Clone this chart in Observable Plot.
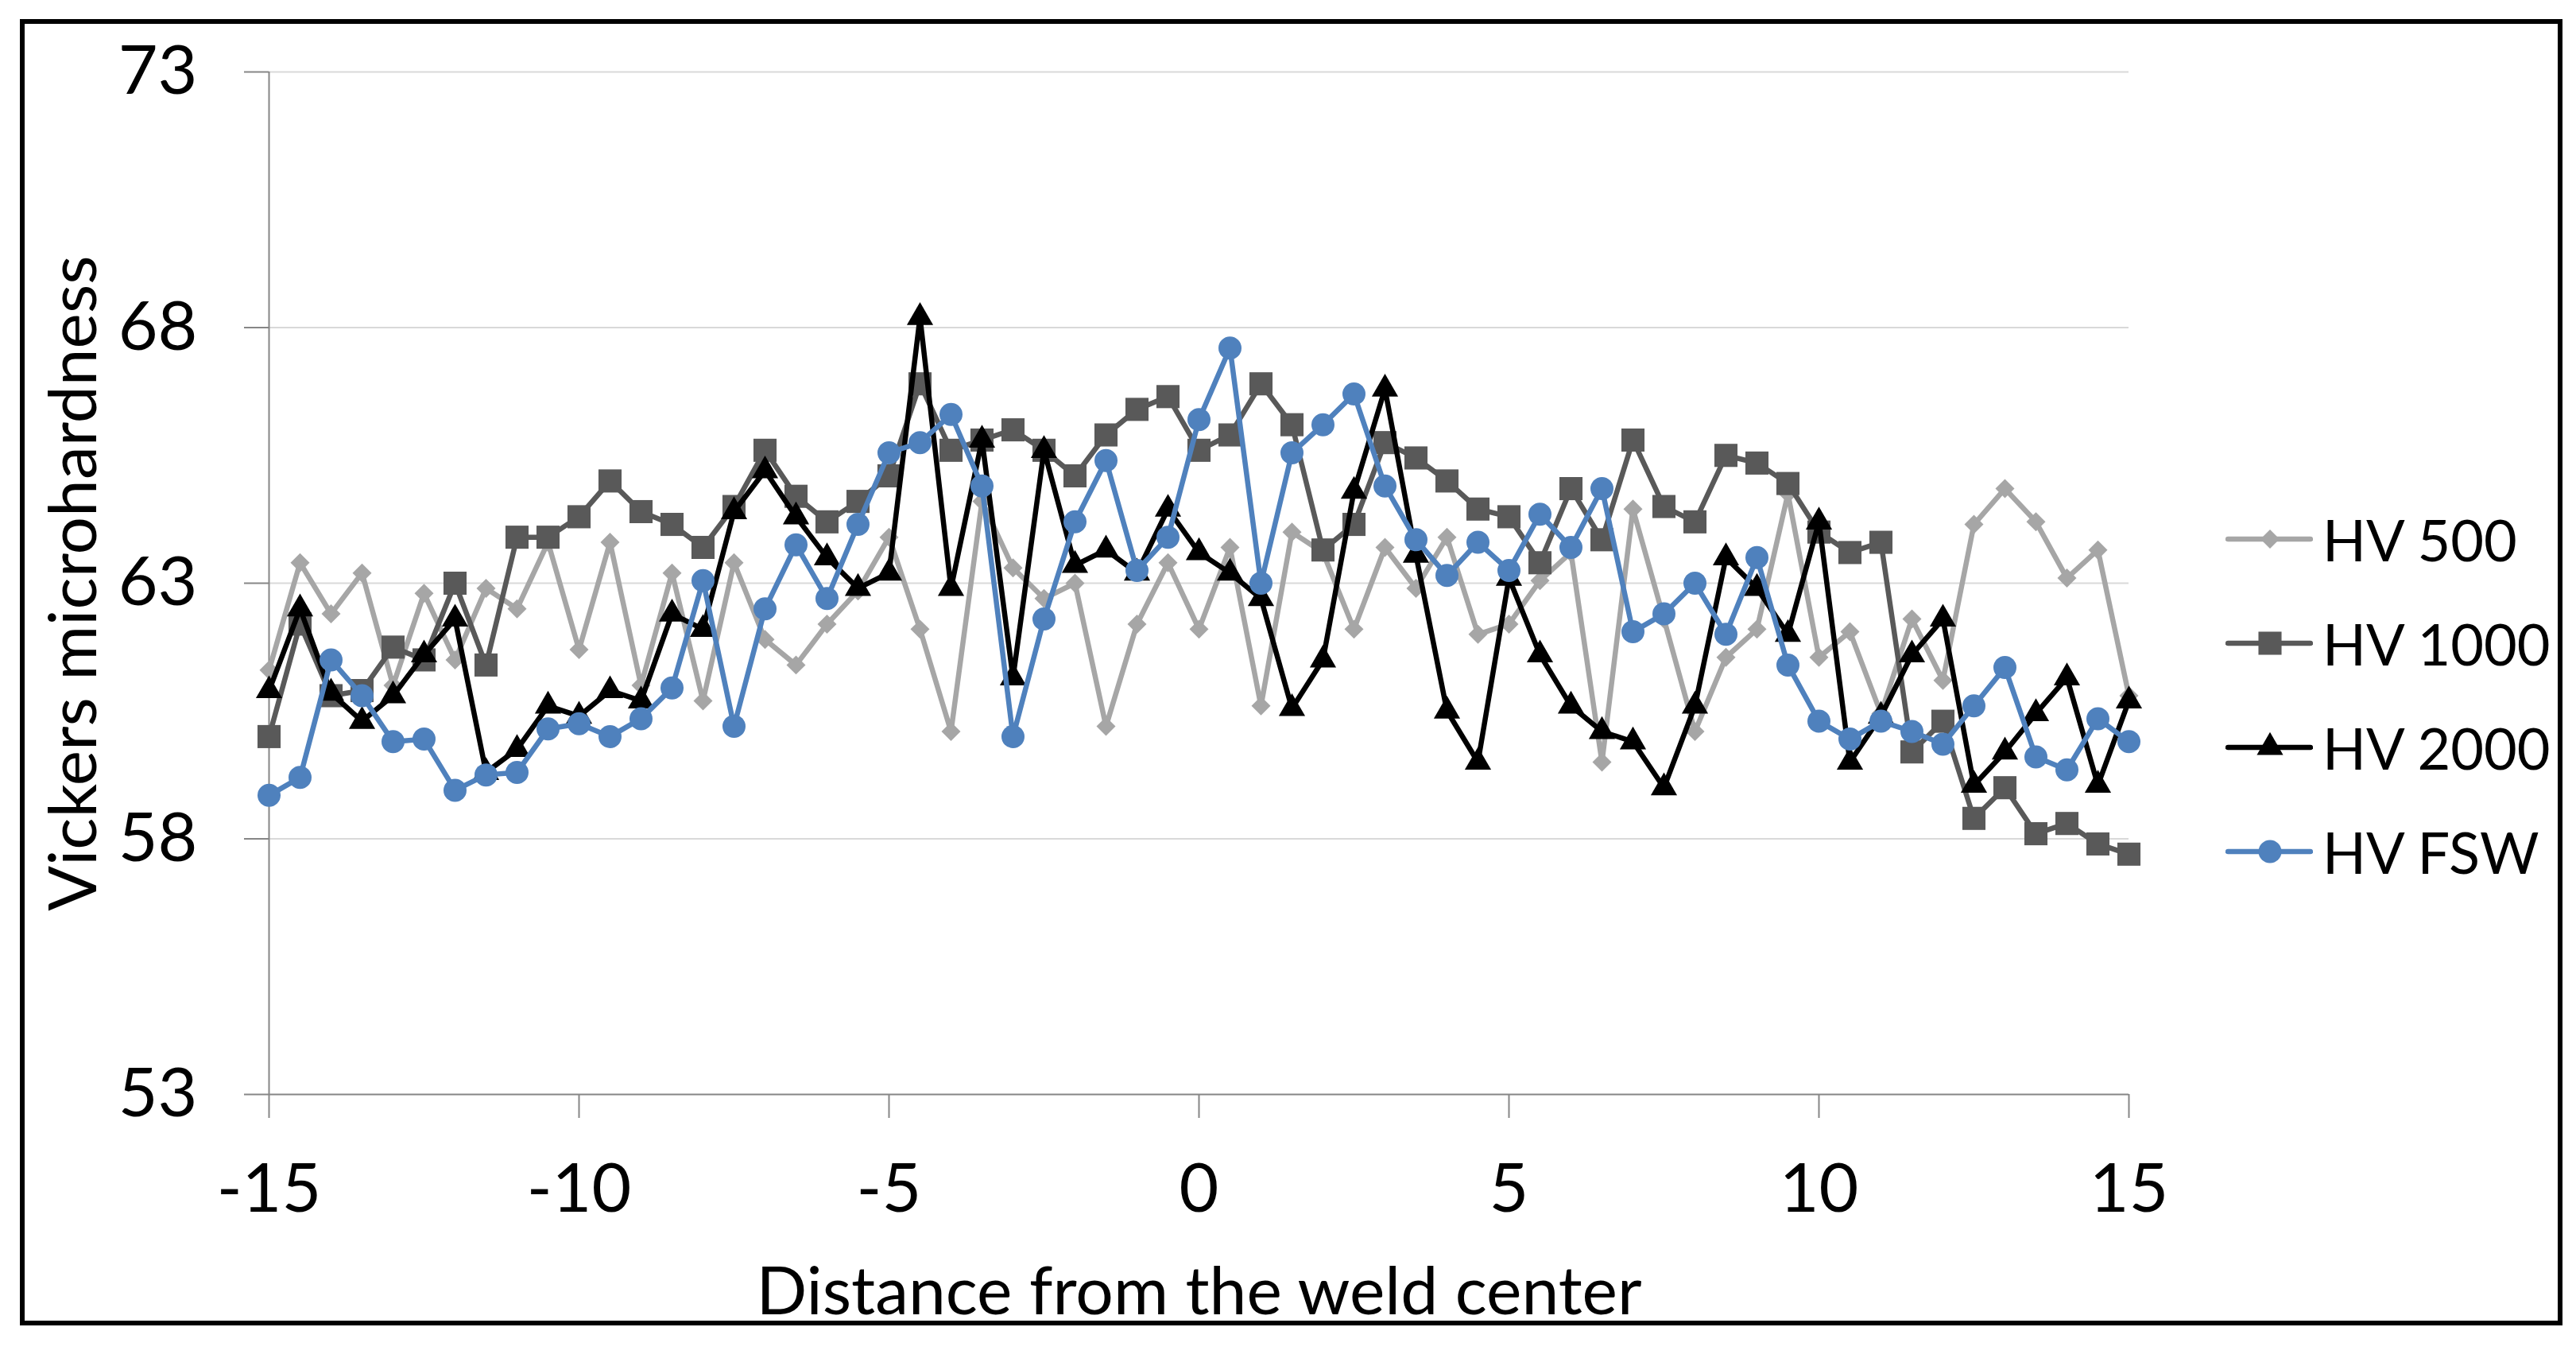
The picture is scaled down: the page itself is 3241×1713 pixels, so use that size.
<!DOCTYPE html>
<html>
<head>
<meta charset="utf-8">
<script src="https://cdn.jsdelivr.net/npm/d3@7"></script>
<script src="https://cdn.jsdelivr.net/npm/@observablehq/plot@0.6"></script>
<style>
  html, body { margin: 0; padding: 0; background: white; overflow: hidden; }
  #wrap { position: relative; width: 3241px; height: 1713px; }
  #frame { position: absolute; left: 25px; top: 24px; width: 3199px; height: 1643px; border: 6px solid black; box-sizing: border-box; pointer-events: none; }
  #legend { position: absolute; left: 2800px; top: 612px; font-family: Lato, sans-serif; font-size: 72px; color: black; }
  .row { display: flex; align-items: center; height: 131px; }
  .row svg { display: block; margin-right: 12px; }
</style>
</head>
<body>
<div id="wrap">
  <div id="chart"></div>
  <div id="legend"></div>
  <div id="frame"></div>
</div>
<script>
const distance = [-15,-14.5,-14,-13.5,-13,-12.5,-12,-11.5,-11,-10.5,-10,-9.5,-9,-8.5,-8,-7.5,-7,-6.5,-6,-5.5,-5,-4.5,-4,-3.5,-3,-2.5,-2,-1.5,-1,-0.5,0,0.5,1,1.5,2,2.5,3,3.5,4,4.5,5,5.5,6,6.5,7,7.5,8,8.5,9,9.5,10,10.5,11,11.5,12,12.5,13,13.5,14,14.5,15];

const hv500 = [61.3,63.4,62.4,63.2,61.0,62.8,61.5,62.9,62.5,63.8,61.7,63.8,61.0,63.2,60.7,63.4,61.9,61.4,62.2,62.85,63.9,62.1,60.1,64.6,63.3,62.7,63.0,60.2,62.2,63.4,62.1,63.7,60.6,64.0,63.6,62.1,63.7,62.9,63.9,62.0,62.2,63.05,63.6,59.5,64.45,62.3,60.1,61.55,62.1,64.75,61.55,62.05,60.45,62.3,61.1,64.15,64.85,64.2,63.1,63.65,60.8];

const hv1000 = [60.0,62.2,60.8,60.9,61.75,61.5,63.0,61.4,63.9,63.9,64.3,65.0,64.4,64.15,63.7,64.5,65.6,64.7,64.2,64.6,65.1,66.9,65.6,65.8,66.0,65.6,65.1,65.9,66.4,66.65,65.6,65.9,66.9,66.1,63.65,64.15,65.75,65.45,65.0,64.45,64.3,63.4,64.85,63.85,65.8,64.5,64.2,65.5,65.35,64.95,64.0,63.6,63.8,59.7,60.3,58.4,59.0,58.1,58.3,57.9,57.7];

const hv2000 = [60.9,62.5,60.85,60.3,60.8,61.6,62.3,59.3,59.75,60.6,60.4,60.9,60.7,62.4,62.1,64.4,65.2,64.3,63.5,62.9,63.2,68.2,62.9,65.8,61.15,65.6,63.35,63.65,63.2,64.45,63.6,63.2,62.7,60.55,61.5,64.8,66.8,63.55,60.5,59.5,63.1,61.6,60.6,60.1,59.9,59.0,60.6,63.5,62.9,62.0,64.2,59.5,60.4,61.6,62.3,59.05,59.7,60.45,61.15,59.05,60.7];

const hvFSW = [58.85,59.2,61.5,60.8,59.9,59.95,58.95,59.25,59.3,60.15,60.25,60.0,60.35,60.95,63.05,60.2,62.5,63.75,62.7,64.15,65.55,65.75,66.3,64.9,60.0,62.3,64.2,65.4,63.25,63.9,66.2,67.6,63.0,65.55,66.1,66.7,64.9,63.85,63.15,63.8,63.25,64.35,63.7,64.85,62.05,62.4,63.0,62.0,63.5,61.4,60.3,59.95,60.3,60.1,59.85,60.6,61.35,59.6,59.35,60.35,59.9];

const seriesNames = ["HV 500", "HV 1000", "HV 2000", "HV FSW"];
const seriesValues = [hv500, hv1000, hv2000, hvFSW];
const colors = ["#a6a6a6", "#595959", "#000000", "#4f81bd"];
const symbols = ["diamond2", "square", "triangle", "circle"];
const radii = [10.8, 16.4, 12.3, 14.5];

const xTicks = [-15, -10, -5, 0, 5, 10, 15];
const yTicks = [53, 58, 63, 68, 73];
const gridTicks = [58, 63, 68, 73];

const xTitle = "Distance from the weld center";
const yTitle = "Vickers microhardness";

const series = seriesNames.map((name, i) => ({
  name,
  color: colors[i],
  symbol: symbols[i],
  r: radii[i],
  data: distance.map((d, j) => ({x: d, y: seriesValues[i][j]}))
}));

const fmt = d => String(d);

const marks = [
  Plot.gridY(gridTicks, {stroke: "#d9d9d9", strokeOpacity: 1, strokeWidth: 2}),
  Plot.ruleX([-15], {stroke: "#868686", strokeWidth: 2}),
  Plot.ruleY([53], {stroke: "#868686", strokeWidth: 2}),
  Plot.axisY(yTicks, {tickSize: 31, tickPadding: 59, stroke: "#868686", strokeWidth: 2, fill: "black", fontSize: 86, tickFormat: fmt, label: null}),
  Plot.axisX(xTicks, {tickSize: 30, tickPadding: 56, stroke: "#868686", strokeWidth: 2, fill: "black", fontSize: 86, tickFormat: fmt, label: null})
];

for (const s of series) {
  marks.push(Plot.line(s.data, {x: "x", y: "y", stroke: s.color, strokeWidth: 6.5, strokeLinejoin: "round"}));
  marks.push(Plot.dot(s.data, {x: "x", y: "y", symbol: () => s.symbol, fill: s.color, stroke: "none", r: s.r}));
}

marks.push(Plot.text([xTitle], {frameAnchor: "bottom", textAnchor: "middle", lineAnchor: "bottom", dy: 276, fontSize: 84, fill: "black"}));
marks.push(Plot.text([yTitle], {frameAnchor: "left", textAnchor: "middle", lineAnchor: "bottom", rotate: -90, dx: -218, fontSize: 84, fill: "black"}));

const chart = Plot.plot({
  width: 3241,
  height: 1713,
  marginLeft: 338,
  marginRight: 563,
  marginTop: 90,
  marginBottom: 337,
  style: {fontFamily: "Lato, sans-serif", background: "white", color: "black"},
  x: {domain: [-15, 15]},
  y: {domain: [53, 73]},
  symbol: {type: "identity"},
  marks
});
document.getElementById("chart").appendChild(chart);

// Legend
const legend = d3.select("#legend");
series.forEach(s => {
  const row = legend.append("div").attr("class", "row");
  const svg = row.append("svg").attr("width", 110).attr("height", 40);
  svg.append("line").attr("x1", 3).attr("x2", 107).attr("y1", 20).attr("y2", 20)
    .attr("stroke", s.color).attr("stroke-width", 6.5).attr("stroke-linecap", "round");
  const sym = {diamond2: d3.symbolDiamond2, square: d3.symbolSquare, triangle: d3.symbolTriangle, circle: d3.symbolCircle}[s.symbol];
  svg.append("path").attr("transform", "translate(56,20)")
    .attr("d", d3.symbol(sym, Math.PI * s.r * s.r)()).attr("fill", s.color);
  row.append("span").text(s.name);
});
</script>
</body>
</html>
